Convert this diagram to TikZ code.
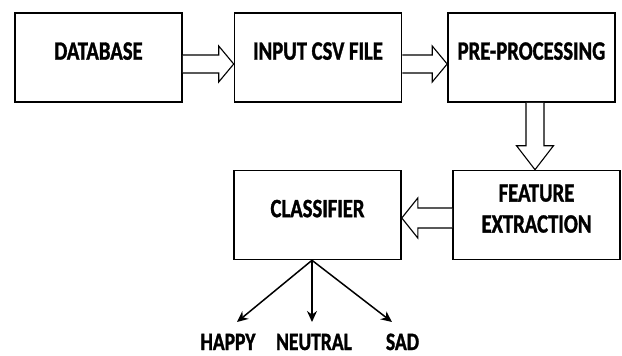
\documentclass[tikz,border=0pt]{standalone}
\usepackage{fontspec}
\setmainfont{Carlito}[FakeStretch=0.78, BoldFeatures={FakeBold=1.2}]
\usetikzlibrary{arrows.meta,calc}

\tikzset{
  stage/.style={draw, line width=1.6pt, minimum width=167pt, minimum height=89pt,
    inner sep=0pt, align=center, text depth=13pt,
    font=\fontsize{26.5}{31}\selectfont\bfseries},
  emotion/.style={anchor=base, inner sep=0pt, font=\fontsize{25}{28}\selectfont\bfseries},
  hollow/.style={draw, line width=1.1pt, fill=white, line join=miter},
  leaf/.style={-{Stealth[length=11pt,width=10pt]}, line width=1.5pt}
}

\begin{document}
\begin{tikzpicture}[x=1pt, y=-1pt]
    \useasboundingbox (0,0) rectangle (622,356);

    % les blocs du traitement
    \node[stage] (db)  at (98.5,57.5)  {DATABASE};
    \node[stage] (csv) at (318,57.5)   {INPUT CSV FILE};
    \node[stage] (pre) at (531.5,57.5) {PRE-PROCESSING};
    \node[stage] (fe)  at (536.5,215)  {FEATURE\\EXTRACTION};
    \node[stage] (cls) at (317.5,215)  {CLASSIFIER};

    % fleches creuses entre les blocs
    \draw[hollow] ($(db.east)+(0,-2.5)$) -- ($(csv.west)+(-15,-2.5)$) -- ($(csv.west)+(-15,-11.5)$)
        -- ($(csv.west)+(0,6.5)$) -- ($(csv.west)+(-15,24.5)$) -- ($(csv.west)+(-15,15.5)$)
        -- ($(db.east)+(0,15.5)$);
    \draw[hollow] ($(csv.east)+(0,-2.5)$) -- ($(pre.west)+(-15,-2.5)$) -- ($(pre.west)+(-15,-11.5)$)
        -- ($(pre.west)+(0,6.5)$) -- ($(pre.west)+(-15,24.5)$) -- ($(pre.west)+(-15,15.5)$)
        -- ($(csv.east)+(0,15.5)$);
    \draw[hollow] ($(pre.south)+(-5.5,0)$) -- ($(fe.north)+(-10.5,-24)$) -- ($(fe.north)+(-20,-24)$)
        -- ($(fe.north)+(-1.5,0)$) -- ($(fe.north)+(17,-24)$) -- ($(fe.north)+(7.5,-24)$)
        -- ($(pre.south)+(12.5,0)$);
    \draw[hollow] ($(fe.west)+(0,-7)$) -- ($(cls.east)+(16,-7)$) -- ($(cls.east)+(16,-17)$)
        -- ($(cls.east)+(0,3)$) -- ($(cls.east)+(16,23)$) -- ($(cls.east)+(16,13)$)
        -- ($(fe.west)+(0,13)$);

    % sorties du classifieur
    \coordinate (apex) at ($(cls.south)+(-5.5,0)$);
    \node[emotion] (happy)   at (228,350)   {HAPPY};
    \node[emotion] (neutral) at (314,350)   {NEUTRAL};
    \node[emotion] (sad)     at (402.5,350) {SAD};
    \coordinate (toHappy)   at (237,322);
    \coordinate (toNeutral) at (312,322);
    \coordinate (toSad)     at (392,322);
    \draw[leaf] (apex) -- (toHappy);
    \draw[leaf] (apex) -- (toNeutral);
    \draw[leaf] (apex) -- (toSad);
\end{tikzpicture}
\end{document}
